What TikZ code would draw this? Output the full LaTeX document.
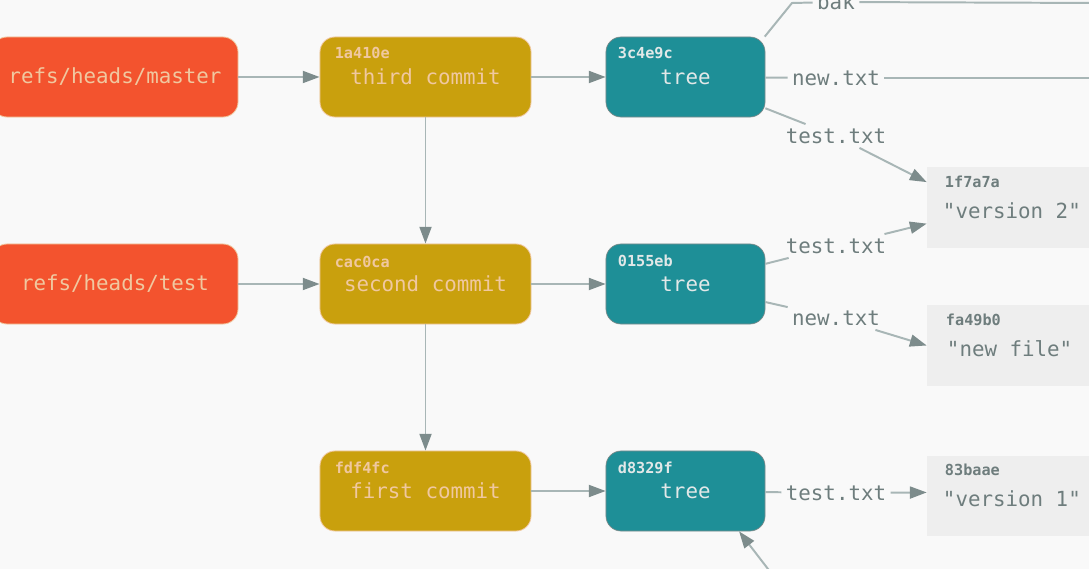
\documentclass[tikz,border=0pt]{standalone}
\usepackage{fontspec}
\newfontfamily\gitmono{DejaVu Sans Mono}
\usetikzlibrary{arrows.meta}
\definecolor{canvas}{RGB}{249,249,249}
\definecolor{refred}{RGB}{243,83,46}
\definecolor{commitgold}{RGB}{201,160,13}
\definecolor{treeteal}{RGB}{30,143,151}
\definecolor{peach}{RGB}{240,200,160}
\definecolor{treetext}{RGB}{226,232,232}
\definecolor{blobgrey}{RGB}{238,238,238}
\definecolor{labelgrey}{RGB}{110,125,125}
\definecolor{linegrey}{RGB}{168,182,182}
\definecolor{tipgrey}{RGB}{125,140,140}
\newcommand\gitbig{\gitmono\fontsize{14.8}{17}\selectfont}
\newcommand\githash{\gitmono\bfseries\fontsize{10.8}{13}\selectfont}
\tikzset{
  objbox/.style={rectangle, rounded corners=0.375cm, minimum height=2cm, inner sep=0pt, font=\gitbig},
  refbox/.style={objbox, fill=refred, draw=peach, line width=0.6pt, text=peach, minimum width=6.15cm},
  commitbox/.style={objbox, fill=commitgold, draw=peach, line width=0.6pt, text=peach, minimum width=5.275cm},
  treebox/.style={objbox, fill=treeteal, draw=tipgrey, line width=0.5pt, text=treetext, minimum width=3.975cm},
  blobbox/.style={rectangle, fill=blobgrey, minimum width=5.075cm, minimum height=2.02cm, inner sep=0pt},
  hashtext/.style={anchor=north west, inner sep=0pt, font=\githash},
  blobtext/.style={anchor=west, inner sep=0pt, font=\gitbig, text=labelgrey},
  pathlabel/.style={fill=canvas, inner sep=3pt, font=\gitbig, text=labelgrey},
  link/.style={draw=linegrey, line width=1.4pt},
  arrowlink/.style={link, -{Triangle[length=0.42cm, width=0.3cm, color=tipgrey]}}
}
\begin{document}
\begin{tikzpicture}[x=0.025cm, y=-0.025cm]
  \useasboundingbox (0,0) rectangle (1089,569);
  \fill[canvas] (0,0) rectangle (1089,569);
  \clip (0,0) rectangle (1089,569);
  % refs
  \node[refbox] (master) at (115,77) {refs/heads/master};
  \node[refbox] (testref) at (115,284) {refs/heads/test};
  % commits
  \node[commitbox] (third) at (425.5,77) {third commit};
  \node[commitbox] (second) at (425.5,284) {second commit};
  \node[commitbox] (first) at (425.5,491) {first commit};
  \node[hashtext, text=peach] (thirdhash) at ([shift={(15,10)}]third.north west) {1a410e};
  \node[hashtext, text=peach] (secondhash) at ([shift={(15,12)}]second.north west) {cac0ca};
  \node[hashtext, text=peach] (firsthash) at ([shift={(15,11)}]first.north west) {fdf4fc};
  % trees
  \node[treebox] (tree1) at (685.5,77) {tree};
  \node[treebox] (tree2) at (685.5,284) {tree};
  \node[treebox] (tree3) at (685.5,491) {tree};
  \node[hashtext, text=treetext] (tree1hash) at ([shift={(12,10)}]tree1.north west) {3c4e9c};
  \node[hashtext, text=treetext] (tree2hash) at ([shift={(12,11)}]tree2.north west) {0155eb};
  \node[hashtext, text=treetext] (tree3hash) at ([shift={(12,11)}]tree3.north west) {d8329f};
  % blobs
  \node[blobbox] (blob1) at (1028.5,207.5) {};
  \node[blobbox] (blob2) at (1028.5,345.5) {};
  \node[blobbox] (blob3) at (1028.5,496) {};
  \node[hashtext, text=labelgrey] (blob1hash) at ([shift={(18,9)}]blob1.north west) {1f7a7a};
  \node[hashtext, text=labelgrey] (blob2hash) at ([shift={(19,9)}]blob2.north west) {fa49b0};
  \node[hashtext, text=labelgrey] (blob3hash) at ([shift={(18,8)}]blob3.north west) {83baae};
  \node[blobtext] (blob1text) at ([shift={(16,3.5)}]blob1.west) {"version 2"};
  \node[blobtext] (blob2text) at ([shift={(20,3.5)}]blob2.west) {"new file"};
  \node[blobtext] (blob3text) at ([shift={(16,3)}]blob3.west) {"version 1"};
  % refs and commits
  \draw[arrowlink] (master) -- (third);
  \draw[arrowlink] (testref) -- (second);
  \draw[arrowlink] (third) -- (second);
  \draw[arrowlink] (second) -- (first);
  \draw[arrowlink] (third) -- (tree1);
  \draw[arrowlink] (second) -- (tree2);
  \draw[arrowlink] (first) -- (tree3);
  % file names
  \node[pathlabel] (bak) at (836,2) {bak};
  \node[pathlabel] (newA) at (836,78) {new.txt};
  \node[pathlabel] (testA) at (836,136) {test.txt};
  \node[pathlabel] (testB) at (836,246) {test.txt};
  \node[pathlabel] (newB) at (836,318) {new.txt};
  \node[pathlabel] (testC) at (836,493) {test.txt};
  % ends leaving the frame
  \coordinate (bakbend) at (792,3);
  \coordinate (bakout) at (1100,3);
  \coordinate (newout) at (1100,78);
  \coordinate (bakin) at (778,582);
  % tree entries
  \draw[link] (tree1.27) -- (bakbend) -- (bak);
  \draw[link] (bak) -- (bakout);
  \draw[link] (tree1) -- (newA);
  \draw[link] (newA) -- (newout);
  \draw[link] (tree1) -- (testA);
  \draw[arrowlink] (testA) -- (blob1.166);
  \draw[link] (tree2) -- (testB);
  \draw[arrowlink] (testB) -- (blob1.189);
  \draw[link] (tree2) -- (newB);
  \draw[arrowlink] (newB) -- (blob2.west);
  \draw[link] (tree3) -- (testC);
  \draw[arrowlink] (testC) -- (blob3.178);
  \draw[arrowlink] (bakin) -- (tree3.-37);
\end{tikzpicture}
\end{document}
